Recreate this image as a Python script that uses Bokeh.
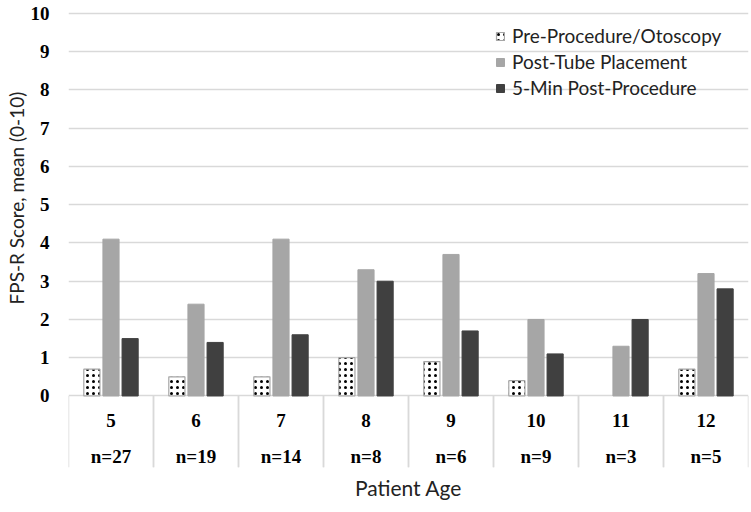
from bokeh.plotting import figure
from bokeh.models import ColumnDataSource, FactorRange, Range1d, FixedTicker, Title, Legend, LegendItem
from bokeh.transform import dodge
from bokeh.core.properties import value
from bokeh.embed import file_html
from bokeh.resources import INLINE

# ---- data ----
ages = ["5", "6", "7", "8", "9", "10", "11", "12"]
n_counts = ["n=27", "n=19", "n=14", "n=8", "n=6", "n=9", "n=3", "n=5"]
pre_procedure = [0.7, 0.5, 0.5, 1.0, 0.9, 0.4, float("nan"), 0.7]
post_tube = [4.1, 2.4, 4.1, 3.3, 3.7, 2.0, 1.3, 3.2]
five_min_post = [1.5, 1.4, 1.6, 3.0, 1.7, 1.1, 2.0, 2.8]
series_names = ["Pre-Procedure/Otoscopy", "Post-Tube Placement", "5-Min Post-Procedure"]
y_ticks = list(range(0, 11))

# ---- layout constants ----
Y_MIN, Y_MAX = -1.87, 10.13
BAR_W = 0.19
OFF = 0.225
GRID = "#d9d9d9"
SERIF = "Liberation Serif"
SANS = "Lato"

src = ColumnDataSource(dict(age=ages, n=n_counts, pre=pre_procedure,
                            post=post_tube, five=five_min_post))

p = figure(x_range=FactorRange(*ages), y_range=Range1d(Y_MIN, Y_MAX),
           width=750, height=504, output_backend="svg", toolbar_location=None,
           x_axis_location=None, min_border_left=68, min_border_right=2,
           min_border_top=8, min_border_bottom=30)
p.outline_line_color = None
p.background_fill_color = "white"

# y axis
yax = p.yaxis[0]
yax.ticker = FixedTicker(ticks=y_ticks)
yax.axis_line_color = None
yax.major_tick_line_color = None
yax.minor_tick_line_color = None
yax.major_label_text_font = SERIF
yax.major_label_text_font_style = "bold"
yax.major_label_text_font_size = "19px"
yax.major_label_text_color = "black"
yax.major_label_standoff = 13

p.add_layout(Title(text="FPS-R Score, mean (0-10)", align="left", offset=163,
                   text_font=SANS, text_font_size="19px", text_font_style="normal",
                   text_color="#222222", standoff=0), "left")

p.ygrid.grid_line_color = GRID
p.ygrid.grid_line_width = 1.5
p.xgrid.visible = False

# table lines below the bars
for d in (-0.5, 0.5):
    p.segment(x0=dodge("age", d, range=p.x_range), x1=dodge("age", d, range=p.x_range),
              y0=0, y1=Y_MIN, source=src, line_color=GRID, line_width=1.5)

# bars
r_pre = p.vbar(x=dodge("age", -OFF, range=p.x_range), top="pre", width=BAR_W, source=src,
               fill_color="white", line_color="#a6a6a6", line_width=1.2,
               hatch_pattern="dot", hatch_color="black", hatch_scale=6, hatch_weight=1)
r_post = p.vbar(x="age", top="post", width=BAR_W, source=src,
                fill_color="#a6a6a6", line_color="#a6a6a6")
r_five = p.vbar(x=dodge("age", OFF, range=p.x_range), top="five", width=BAR_W, source=src,
                fill_color="#404040", line_color="#404040")

# category labels (table)
p.text(x="age", y=-0.65, text="age", source=src, text_font=value(SERIF),
       text_font_style="bold", text_font_size="19px", text_align="center",
       text_baseline="middle", text_color="black")
p.text(x="age", y=-1.58, text="n", source=src, text_font=value(SERIF),
       text_font_style="bold", text_font_size="19px", text_align="center",
       text_baseline="middle", text_color="black")

legend = Legend(items=[LegendItem(label=series_names[0], renderers=[r_pre]),
                       LegendItem(label=series_names[1], renderers=[r_post]),
                       LegendItem(label=series_names[2], renderers=[r_five])],
                location="top_right", background_fill_alpha=0, border_line_color=None,
                glyph_width=10, glyph_height=10, label_standoff=7, spacing=3,
                padding=0, margin=16, label_width=220, label_text_font=SANS,
                label_text_font_size="19px", label_text_color="#222222")
p.add_layout(legend)

p.add_layout(Title(text="Patient Age", align="center", text_font=SANS,
                   text_font_size="21px", text_font_style="normal",
                   text_color="#222222"), "below")

open("out.html", "w").write(file_html(p, INLINE))
